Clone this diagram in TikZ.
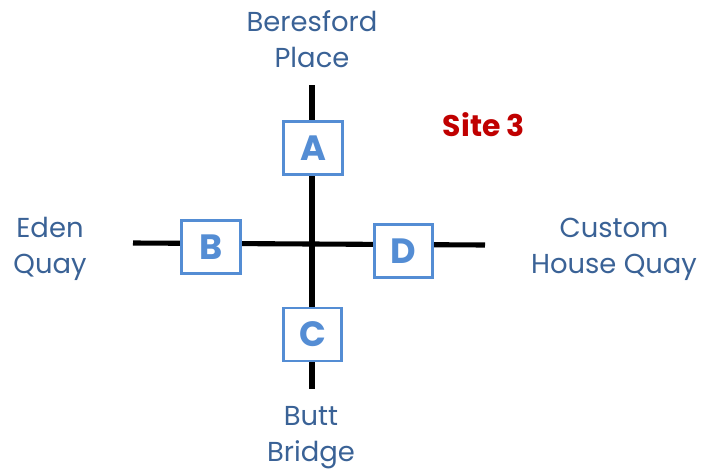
\documentclass[tikz,border=0pt]{standalone}
\usepackage{fontspec}
\setmainfont{Poppins}
\definecolor{streetblue}{RGB}{58,98,150}
\definecolor{boxblue}{RGB}{84,141,212}
\definecolor{sitered}{RGB}{192,0,0}
\begin{document}
\begin{tikzpicture}
    \tikzstyle{road} = [line width=2.9pt, black]
    \tikzstyle{site} = [rectangle, draw=boxblue, line width=1.5pt, fill=white,
        text=boxblue, minimum width=1.17cm, minimum height=1.06cm,
        inner sep=0pt, font=\fontsize{20}{24}\selectfont\bfseries]
    \tikzstyle{street} = [align=center, text=streetblue,
        font=\fontsize{15.6}{20.6}\selectfont]

    \useasboundingbox (0,0) rectangle (14.08,-9.46);

    \coordinate (north) at (6.24,-1.7);
    \coordinate (south) at (6.24,-7.77);
    \coordinate (west) at (2.66,-4.86);
    \coordinate (east) at (9.7,-4.9);
    \coordinate (hub) at (6.24,-4.88);

    \draw[road] (north) -- (hub) -- (south);
    \draw[road] (west) -- (hub) -- (east);

    \node(sitea) [site] at (6.26,-2.96) {A};
    \node(siteb) [site] at (4.22,-4.94) {B};
    \node(sitec) [site] at (6.25,-6.69) {C};
    \node(sited) [site] at (8.07,-5.02) {D};

    \node(beresford) [street] at (6.24,-0.79) {Beresford\\ Place};
    \node(eden) [street] at (1.0,-4.98) {Eden\\ Quay};
    \node(customhouse) [street] at (12.28,-4.98) {Custom\\ House Quay};
    \node(butt) [street] at (6.22,-8.75) {Butt\\ Bridge};

    \node(sitelabel) [text=sitered, font=\fontsize{17}{20}\selectfont\bfseries]
        at (9.68,-2.5) {Site 3};
\end{tikzpicture}
\end{document}
